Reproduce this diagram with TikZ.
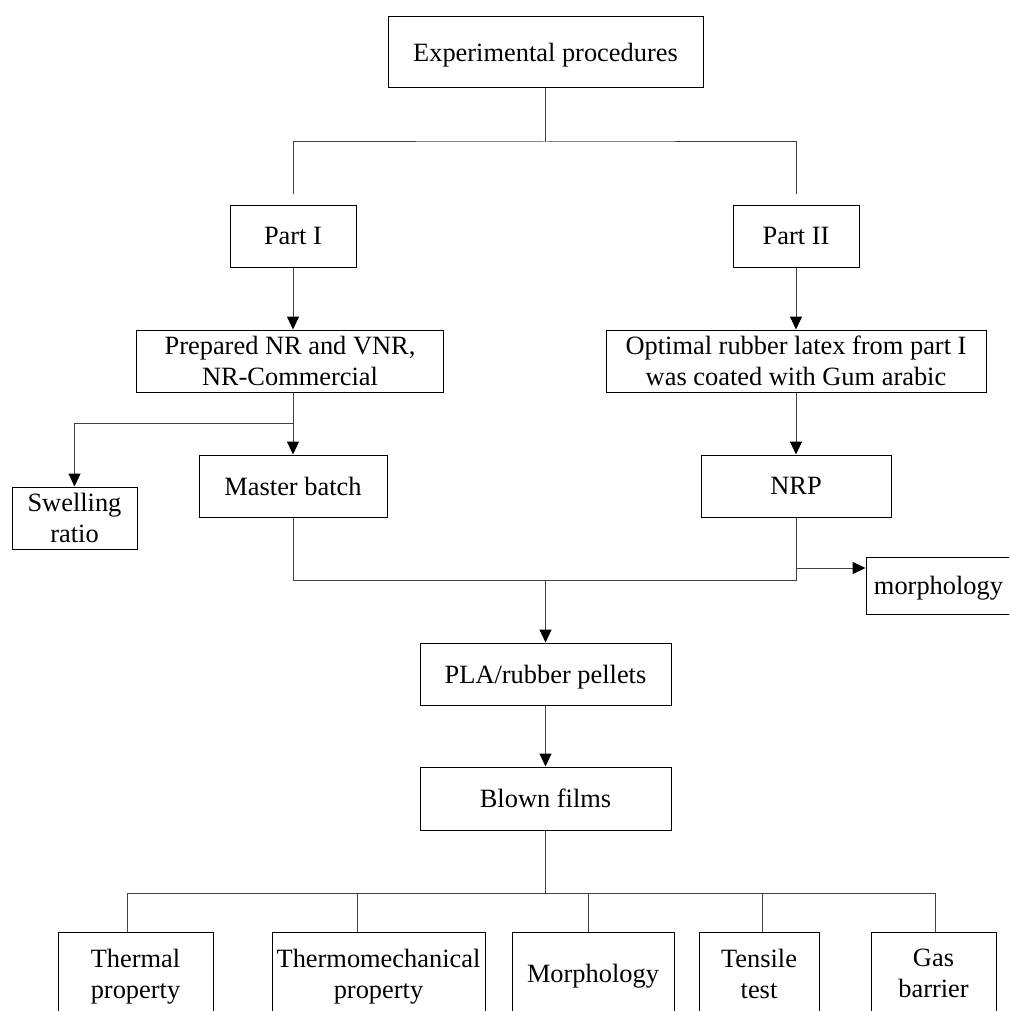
\documentclass[tikz,border=0pt]{standalone}
\usepackage{fontspec}
\setmainfont{Liberation Serif}
\usetikzlibrary{arrows.meta}
\begin{document}
\begin{tikzpicture}[x=1pt,y=-1pt,
  box/.style={draw=black, line width=1pt, align=center, inner sep=0pt, text depth=0pt, font=\fontsize{26.4}{31}\selectfont},
  conn/.style={draw=black!75, line width=1pt},
  arr/.style={conn, -{Triangle[width=12pt,length=13pt,color=black,fill=black]}}]
\useasboundingbox (0,0) rectangle (1009,1011);
\clip (0,0) rectangle (1009,1011);
\fill[white] (0,0) rectangle (1009,1011);

% nodes
\node[box, minimum width=315pt, minimum height=71pt] (exp) at (545.5,52.5) {Experimental procedures};
\node[box, minimum width=126pt, minimum height=62pt] (p1) at (293,236) {Part I};
\node[box, minimum width=126pt, minimum height=62pt] (p2) at (796,236) {Part II};
\node[box, minimum width=307pt, minimum height=62pt] (prep) at (290,361) {Prepared NR and VNR,\\NR-Commercial};
\node[box, minimum width=380pt, minimum height=62pt] (opt) at (796,361) {Optimal rubber latex from part I\\was coated with Gum arabic};
\node[box, minimum width=188pt, minimum height=62pt] (mb) at (293,486) {Master batch};
\node[box, minimum width=125pt, minimum height=62pt] (sw) at (74.5,518) {Swelling\\ratio};
\node[box, minimum width=190pt, minimum height=62pt] (nrp) at (796,486) {NRP};
\node[box, minimum width=145pt, minimum height=57pt] (mr) at (938.5,585.5) {morphology};
\node[box, minimum width=251pt, minimum height=62pt] (pla) at (545.5,674) {PLA/rubber pellets};
\node[box, minimum width=251pt, minimum height=63pt] (bf) at (545.5,798.5) {Blown films};
\node[box, minimum width=155pt, minimum height=83pt] (b1) at (135.5,973.5) {Thermal\\property};
\node[box, minimum width=213pt, minimum height=83pt] (b2) at (378.5,973.5) {Thermomechanical\\property};
\node[box, minimum width=162pt, minimum height=83pt] (b3) at (593,973.5) {Morphology};
\node[box, minimum width=120pt, minimum height=83pt] (b4) at (759,973.5) {Tensile\\test};
\node[box, minimum width=125pt, minimum height=83pt] (b5) at (933.5,973.5) {Gas\\barrier};

% junction coordinates
\coordinate (j0) at (545.5,142);
\coordinate (l1) at (293,194);
\coordinate (l2) at (796,194);
\coordinate (jb) at (293,423);
\coordinate (jc) at (545.5,580);
\coordinate (jm) at (796,568);
\coordinate (jd) at (545.5,893);
\coordinate (d1) at (127,893);
\coordinate (d2) at (357,893);
\coordinate (d3) at (588,893);
\coordinate (d4) at (762,893);
\coordinate (d5) at (935,893);

% connectors
\draw[conn] (exp.south) -- (j0);
\draw[conn] (l1) |- (j0) -| (l2);
\draw[arr] (p1.south) -- (p1.south |- prep.north);
\draw[arr] (p2.south) -- (opt.north);
\draw[arr] (prep.south -| mb.north) -- (mb.north);
\draw[arr] (jb) -| (sw.north);
\draw[arr] (opt.south) -- (nrp.north);
\draw[conn] (mb.south) |- (nrp.south |- jc) -- (nrp.south);
\draw[arr] (jm) -- (jm -| mr.west);
\draw[arr] (jc) -- (pla.north);
\draw[arr] (pla.south) -- (bf.north);
\draw[conn] (bf.south) -- (jd);
\draw[conn] (d1) -- (d5);
\draw[conn] (d1) -- (d1 |- b1.north);
\draw[conn] (d2) -- (d2 |- b2.north);
\draw[conn] (d3) -- (d3 |- b3.north);
\draw[conn] (d4) -- (d4 |- b4.north);
\draw[conn] (d5) -- (d5 |- b5.north);
\end{tikzpicture}
\end{document}
